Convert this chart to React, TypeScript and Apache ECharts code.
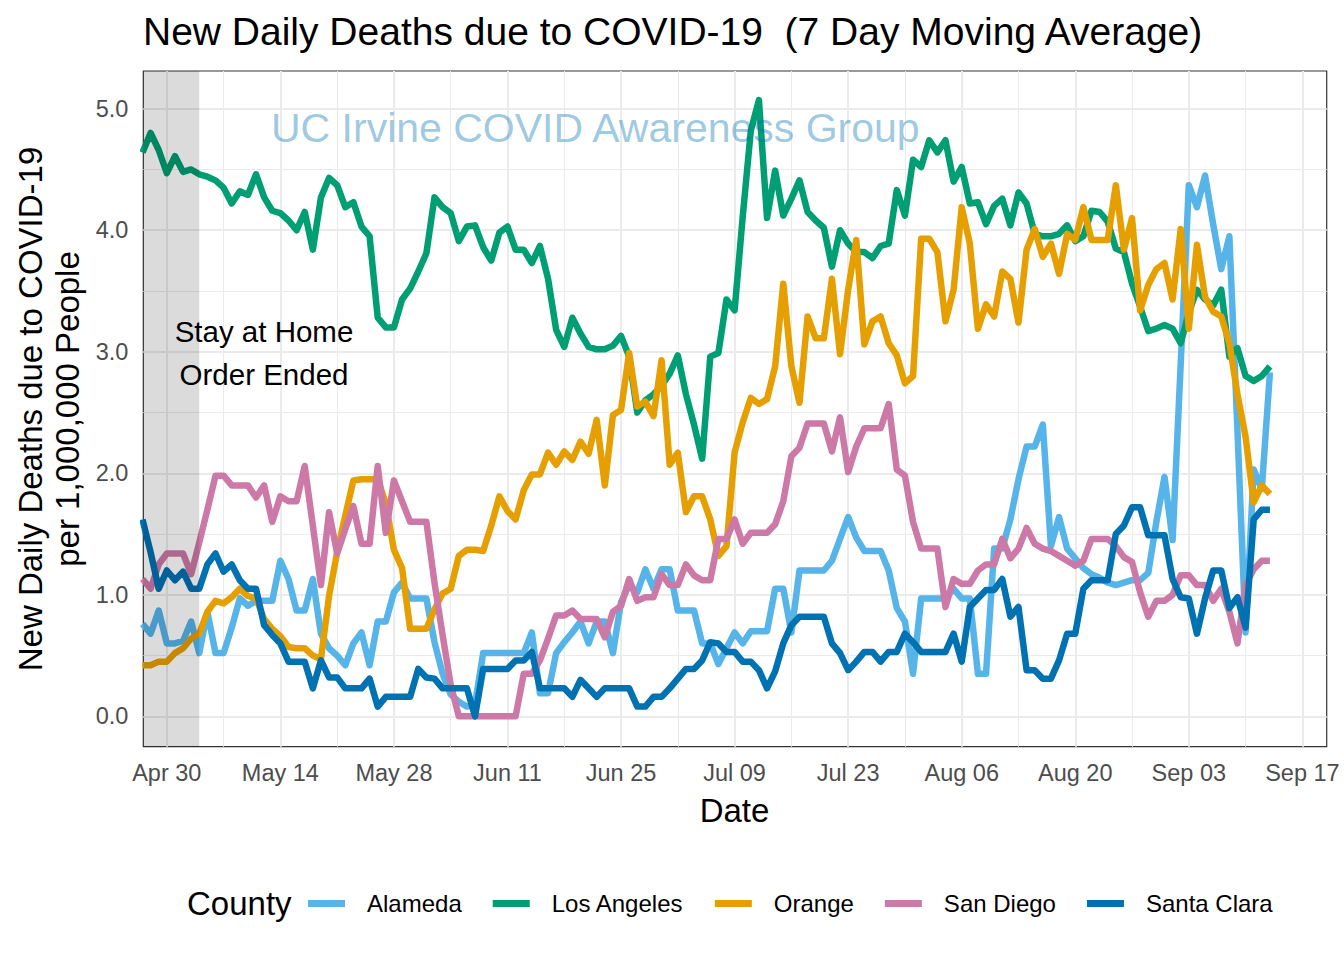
import React, { useEffect, useRef } from "react";
import * as echarts from "echarts";

const FONT = "'Liberation Sans', Arial, Helvetica, sans-serif";

const counties = ["Alameda", "Los Angeles", "Orange", "San Diego", "Santa Clara"];
const countyColors = ["#56B4E9", "#009E73", "#E69F00", "#CC79A7", "#0072B2"];

// One value per day; the first value is Apr 27 (day -3, where day 0 = Apr 30)
const firstDay = -3;

const alameda = [
  0.76, 0.68, 0.87, 0.6, 0.6, 0.62, 0.78, 0.52, 0.86, 0.52,
  0.52, 0.73, 0.97, 0.91, 0.95, 0.95, 0.95, 1.28, 1.13, 0.87,
  0.87, 1.13, 0.68, 0.56, 0.5, 0.42, 0.6, 0.69, 0.42, 0.78,
  0.78, 1.02, 1.1, 0.97, 0.97, 0.97, 0.61, 0.35, 0.18, 0.12,
  0.08, 0.1, 0.52, 0.52, 0.52, 0.52, 0.52, 0.52, 0.69, 0.19,
  0.19, 0.52, 0.61, 0.69, 0.78, 0.6, 0.78, 0.78, 0.52, 0.94,
  1.08, 1.02, 1.21, 1.05, 1.21, 1.21, 0.87, 0.87, 0.87, 0.6,
  0.6, 0.43, 0.56, 0.69, 0.6, 0.7, 0.7, 0.7, 1.05, 1.05,
  0.69, 1.2, 1.2, 1.2, 1.2, 1.28, 1.46, 1.64, 1.47, 1.36,
  1.36, 1.36, 1.2, 0.89, 0.78, 0.35, 0.97, 0.97, 0.97, 0.97,
  1.05, 0.97, 0.97, 0.35, 0.35, 1.38, 1.38, 1.62, 1.95, 2.22,
  2.22, 2.4, 1.4, 1.64, 1.38, 1.3, 1.22, 1.17, 1.14, 1.1,
  1.08, 1.1, 1.12, 1.12, 1.18, 1.6, 1.97, 1.45, 2.9, 4.37,
  4.19, 4.45, 4.05, 3.68, 3.95, 2.35, 0.69, 2.03, 1.87, 2.83,
];

const losAngeles = [
  4.64, 4.8, 4.66, 4.47, 4.61, 4.48, 4.5, 4.46, 4.44, 4.41,
  4.35, 4.22, 4.32, 4.29, 4.46, 4.27, 4.16, 4.14, 4.08, 4.0,
  4.15, 3.84, 4.27, 4.43, 4.37, 4.19, 4.23, 4.03, 3.95, 3.28,
  3.2, 3.2, 3.43, 3.52, 3.66, 3.81, 4.27, 4.19, 4.14, 3.91,
  4.03, 4.04, 3.86, 3.75, 3.98, 4.03, 3.84, 3.84, 3.73, 3.87,
  3.6, 3.18, 3.04, 3.28, 3.15, 3.04, 3.02, 3.02, 3.05, 3.13,
  2.96, 2.5, 2.6, 2.65, 2.72, 2.82, 2.97, 2.65, 2.4, 2.12,
  2.96, 2.99, 3.43, 3.34, 4.11, 4.82, 5.07, 4.1, 4.49, 4.12,
  4.26, 4.41, 4.15, 4.08, 4.02, 3.7, 4.0, 3.89, 3.82, 3.82,
  3.77, 3.87, 3.89, 4.33, 4.12, 4.58, 4.52, 4.74, 4.64, 4.74,
  4.4, 4.52, 4.22, 4.23, 4.05, 4.2, 4.26, 4.04, 4.31, 4.22,
  3.97, 3.95, 3.95, 3.97, 4.04, 3.91, 3.95, 4.16, 4.15, 4.07,
  3.85, 3.82, 3.56, 3.37, 3.17, 3.19, 3.22, 3.19, 3.07, 3.32,
  3.51, 3.43, 3.38, 3.51, 2.96, 3.03, 2.8, 2.76, 2.8, 2.88,
];

const orange = [
  0.42, 0.42, 0.45, 0.45, 0.52, 0.56, 0.64, 0.68, 0.86, 0.95,
  0.93, 0.98, 1.05, 0.99, 0.97, 0.8, 0.72, 0.66, 0.57, 0.56,
  0.56, 0.5, 0.47, 0.99, 1.35, 1.65, 1.94, 1.95, 1.95, 1.95,
  1.75, 1.37, 1.22, 0.72, 0.72, 0.72, 0.88, 1.01, 1.05, 1.32,
  1.37, 1.37, 1.36, 1.57, 1.81, 1.69, 1.62, 1.86, 1.99, 1.99,
  2.17, 2.07, 2.18, 2.11, 2.26, 2.16, 2.44, 1.9, 2.48, 2.52,
  2.99, 2.55, 2.59, 2.47, 2.93, 2.07, 2.17, 1.68, 1.81, 1.81,
  1.62, 1.32, 1.4, 2.17, 2.42, 2.62, 2.57, 2.61, 2.88, 3.56,
  2.88, 2.58, 3.29, 3.11, 3.11, 3.6, 2.98, 3.51, 3.92, 3.06,
  3.25, 3.29, 3.07, 2.97, 2.74, 2.8, 3.93, 3.93, 3.82, 3.25,
  3.51, 4.19, 3.89, 3.19, 3.39, 3.29, 3.66, 3.6, 3.24, 3.84,
  4.01, 3.78, 3.89, 3.64, 3.97, 3.92, 4.19, 3.92, 3.92, 3.92,
  4.37, 3.84, 4.1, 3.34, 3.55, 3.68, 3.73, 3.43, 4.01, 3.19,
  3.88, 3.45, 3.33, 3.29, 3.07, 2.65, 2.3, 1.76, 1.9, 1.83,
];

const sanDiego = [
  1.13, 1.05, 1.25, 1.34, 1.34, 1.34, 1.17, 1.43, 1.7, 1.98,
  1.98, 1.9, 1.9, 1.9, 1.8, 1.9, 1.6, 1.81, 1.77, 1.77,
  2.06, 1.57, 1.08, 1.68, 1.34, 1.54, 1.73, 1.42, 1.42, 2.06,
  1.51, 1.94, 1.77, 1.6, 1.6, 1.6, 1.1, 0.67, 0.26, 0.0,
  0.0, 0.0, 0.0, 0.0, 0.0, 0.0, 0.0, 0.35, 0.35, 0.46,
  0.64, 0.83, 0.83, 0.87, 0.8, 0.8, 0.8, 0.65, 0.86, 0.91,
  1.13, 0.95, 0.98, 0.98, 1.17, 1.08, 1.08, 1.25, 1.16, 1.12,
  1.12, 1.46, 1.46, 1.62, 1.42, 1.51, 1.51, 1.51, 1.58, 1.77,
  2.14, 2.21, 2.41, 2.41, 2.41, 2.18, 2.46, 2.01, 2.22, 2.37,
  2.37, 2.37, 2.57, 2.03, 1.98, 1.6, 1.38, 1.38, 1.38, 0.9,
  1.13, 1.09, 1.09, 1.2, 1.25, 1.25, 1.46, 1.3, 1.38, 1.55,
  1.42, 1.38, 1.36, 1.32, 1.28, 1.24, 1.28, 1.46, 1.46, 1.46,
  1.4, 1.31, 1.27, 1.02, 0.82, 0.95, 0.95, 1.0, 1.16, 1.16,
  1.08, 1.08, 0.95, 1.05, 0.86, 0.6, 1.08, 1.21, 1.28, 1.28,
];

const santaClara = [
  1.62, 1.35, 1.05, 1.2, 1.12, 1.19, 1.05, 1.05, 1.25, 1.34,
  1.19, 1.25, 1.12, 1.05, 1.05, 0.75, 0.67, 0.6, 0.45, 0.45,
  0.45, 0.23, 0.46, 0.32, 0.32, 0.23, 0.23, 0.23, 0.31, 0.08,
  0.16, 0.16, 0.16, 0.16, 0.39, 0.32, 0.31, 0.23, 0.23, 0.23,
  0.23, 0.0, 0.39, 0.39, 0.39, 0.39, 0.46, 0.46, 0.53, 0.23,
  0.23, 0.23, 0.23, 0.16, 0.3, 0.23, 0.16, 0.23, 0.23, 0.23,
  0.23, 0.08, 0.08, 0.16, 0.16, 0.23, 0.31, 0.39, 0.39, 0.46,
  0.61, 0.6, 0.53, 0.53, 0.45, 0.45, 0.38, 0.23, 0.37, 0.6,
  0.75, 0.82, 0.82, 0.82, 0.82, 0.6, 0.52, 0.38, 0.45, 0.53,
  0.53, 0.45, 0.53, 0.53, 0.68, 0.61, 0.53, 0.53, 0.53, 0.53,
  0.68, 0.45, 0.9, 0.97, 1.04, 1.04, 1.13, 0.82, 0.9, 0.38,
  0.38, 0.31, 0.31, 0.46, 0.68, 0.68, 1.05, 1.12, 1.12, 1.12,
  1.5, 1.57, 1.72, 1.72, 1.49, 1.49, 1.49, 1.13, 0.98, 0.97,
  0.68, 0.97, 1.2, 1.2, 0.89, 0.98, 0.73, 1.62, 1.7, 1.7,
];

const seriesValues = [alameda, losAngeles, orange, sanDiego, santaClara];

const xTickDays = [0, 14, 28, 42, 56, 70, 84, 98, 112, 126, 140];
const xTickLabels = ["Apr 30", "May 14", "May 28", "Jun 11", "Jun 25", "Jul 09", "Jul 23", "Aug 06", "Aug 20", "Sep 03", "Sep 17"];
const xMinorDays = [7, 21, 35, 49, 63, 77, 91, 105, 119, 133];
const yTickValues = [0, 1, 2, 3, 4, 5];
const yMinorValues = [0.5, 1.5, 2.5, 3.5, 4.5];

const xMin = -2.9;
const xMax = 143;
const yMin = -0.25;
const yMax = 5.31;
const stayAtHomeEndDay = 4; // May 4

const GRID_COLOR = "#EBEBEB";

export default function App() {
  const ref = useRef<HTMLDivElement>(null);

  useEffect(() => {
    if (!ref.current) return;
    const chart = echarts.init(ref.current, null, { renderer: "svg", width: 1344, height: 960 });

    const lineSeries = counties.map((name, k) => ({
      name,
      type: "line",
      data: seriesValues[k].map((v, i) => [firstDay + i, v]),
      showSymbol: false,
      symbol: "none",
      silent: true,
      z: 2,
      lineStyle: { color: countyColors[k], width: 6.5, join: "round", cap: "butt" },
      itemStyle: { color: countyColors[k] },
    }));

    const gridLineData = [
      ...xMinorDays.map((d) => ({ xAxis: d, lineStyle: { color: GRID_COLOR, width: 1, type: "solid" } })),
      ...yMinorValues.map((v) => ({ yAxis: v, lineStyle: { color: GRID_COLOR, width: 1, type: "solid" } })),
      ...xTickDays.map((d) => ({ xAxis: d, lineStyle: { color: GRID_COLOR, width: 2, type: "solid" } })),
      ...yTickValues.map((v) => ({ yAxis: v, lineStyle: { color: GRID_COLOR, width: 2, type: "solid" } })),
    ];

    const option: any = {
      animation: false,
      backgroundColor: "#ffffff",
      textStyle: { fontFamily: FONT },
      grid: {
        left: 143.3,
        right: 17.3,
        top: 71,
        bottom: 213.3,
        show: true,
        borderColor: "#333333",
        borderWidth: 1.2,
        backgroundColor: "transparent",
        containLabel: false,
        outerBoundsMode: "none",
      },
      xAxis: {
        type: "value",
        min: xMin,
        max: xMax,
        axisLine: { show: false },
        axisTick: { show: true, customValues: xTickDays, length: 7, lineStyle: { color: "#333333", width: 1.5 } },
        axisLabel: {
          show: true,
          customValues: xTickDays,
          formatter: (v: number) => {
            const idx = xTickDays.indexOf(Math.round(v));
            return idx >= 0 ? xTickLabels[idx] : "";
          },
          color: "#4D4D4D",
          fontSize: 23.5,
          fontFamily: FONT,
          margin: 14,
        },
        splitLine: { show: false },
        minorSplitLine: { show: false },
      },
      yAxis: {
        type: "value",
        min: yMin,
        max: yMax,
        axisLine: { show: false },
        axisTick: { show: true, customValues: yTickValues, length: 7, lineStyle: { color: "#333333", width: 1.5 } },
        axisLabel: {
          show: true,
          customValues: yTickValues,
          formatter: (v: number) => v.toFixed(1),
          color: "#4D4D4D",
          fontSize: 23.5,
          fontFamily: FONT,
          margin: 15,
        },
        splitLine: { show: false },
      },
      legend: {
        data: counties,
        left: 303,
        top: 884.5,
        orient: "horizontal",
        icon: "rect",
        itemWidth: 37,
        itemHeight: 7,
        itemGap: 31,
        selectedMode: false,
        textStyle: { fontSize: 24, color: "#000000", fontFamily: FONT, lineHeight: 28, padding: [0, 0, 0, 17] },
      },
      series: [
        {
          name: "__grid",
          type: "line",
          data: [],
          silent: true,
          z: 1,
          markLine: {
            silent: true,
            z: 1,
            symbol: ["none", "none"],
            label: { show: false },
            emphasis: { disabled: true },
            animation: false,
            data: gridLineData,
          },
        },
        ...lineSeries,
        {
          name: "__shade",
          type: "line",
          data: [],
          silent: true,
          z: 3,
          markArea: {
            silent: true,
            z: 3,
            itemStyle: { color: "rgba(0,0,0,0.14)" },
            emphasis: { disabled: true },
            label: { show: false },
            data: [[{ xAxis: xMin }, { xAxis: stayAtHomeEndDay }]],
          },
        },
      ],
      graphic: [
        {
          type: "text",
          x: 143,
          y: 31,
          z: 20,
          silent: true,
          style: {
            text: "New Daily Deaths due to COVID-19  (7 Day Moving Average)",
            fill: "#000000",
            fontSize: 39,
            fontFamily: FONT,
            align: "left",
            textAlign: "left",
            verticalAlign: "middle",
            textVerticalAlign: "middle",
          },
        },
        {
          type: "text",
          x: 271,
          y: 128,
          z: 20,
          silent: true,
          style: {
            text: "UC Irvine COVID Awareness Group",
            fill: "rgba(0,114,178,0.4)",
            fontSize: 41,
            fontFamily: FONT,
            align: "left",
            textAlign: "left",
            verticalAlign: "middle",
            textVerticalAlign: "middle",
          },
        },
        {
          type: "text",
          x: 264,
          y: 352.5,
          z: 20,
          silent: true,
          style: {
            text: "Stay at Home\nOrder Ended",
            fill: "#000000",
            fontSize: 29.5,
            lineHeight: 43,
            fontFamily: FONT,
            align: "center",
            textAlign: "center",
            verticalAlign: "middle",
            textVerticalAlign: "middle",
          },
        },
        {
          type: "text",
          x: 48.5,
          y: 409,
          rotation: Math.PI / 2,
          z: 20,
          silent: true,
          style: {
            text: "New Daily Deaths due to COVID-19\nper 1,000,000 People",
            fill: "#000000",
            fontSize: 33,
            lineHeight: 37,
            fontFamily: FONT,
            align: "center",
            textAlign: "center",
            verticalAlign: "middle",
            textVerticalAlign: "middle",
          },
        },
        {
          type: "text",
          x: 734.5,
          y: 810,
          z: 20,
          silent: true,
          style: {
            text: "Date",
            fill: "#000000",
            fontSize: 33,
            fontFamily: FONT,
            align: "center",
            textAlign: "center",
            verticalAlign: "middle",
            textVerticalAlign: "middle",
          },
        },
        {
          type: "text",
          x: 187,
          y: 903.5,
          z: 20,
          silent: true,
          style: {
            text: "County",
            fill: "#000000",
            fontSize: 33,
            fontFamily: FONT,
            align: "left",
            textAlign: "left",
            verticalAlign: "middle",
            textVerticalAlign: "middle",
          },
        },
      ],
    };

    chart.setOption(option);
    return () => {
      chart.dispose();
    };
  }, []);

  return (
    <div
      ref={ref}
      style={{ position: "fixed", left: 0, top: 0, width: 1344, height: 960, background: "#ffffff" }}
    />
  );
}
